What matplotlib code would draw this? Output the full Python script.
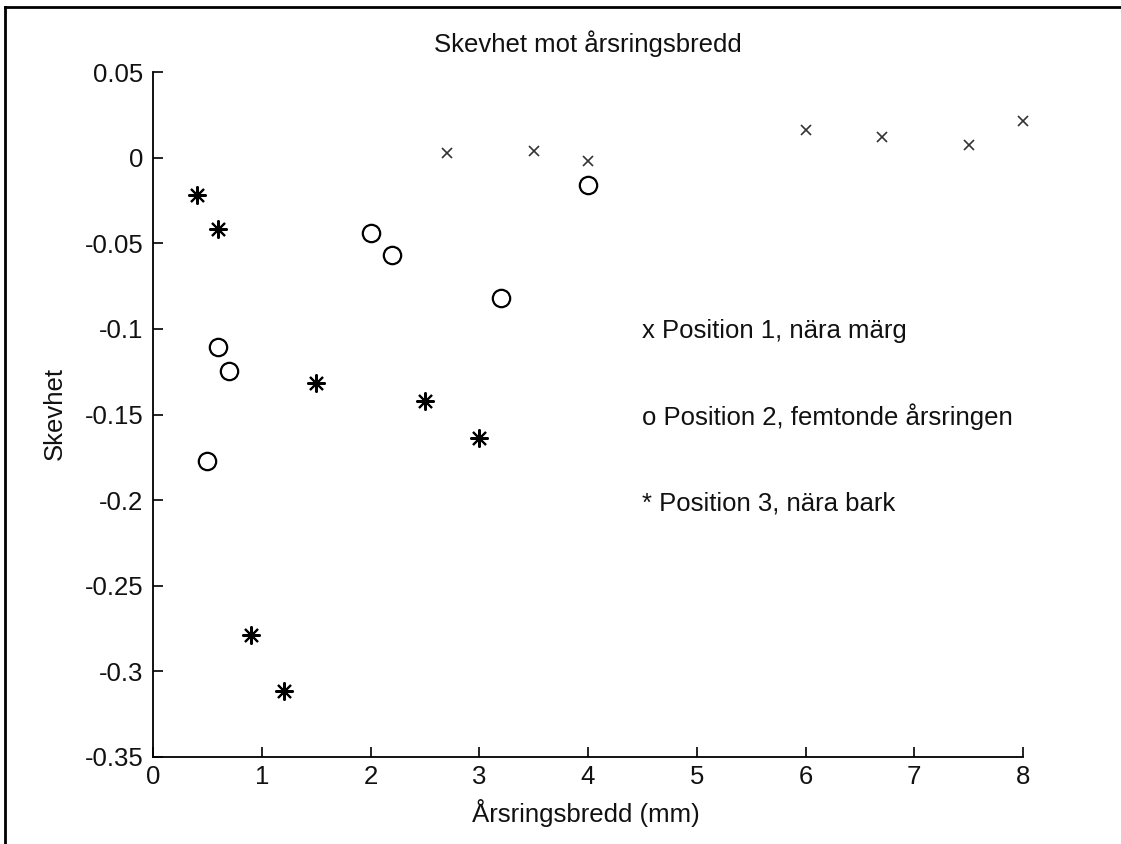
import matplotlib.pyplot as plt
from matplotlib.lines import Line2D

# Position 1, nära märg (x)
pos1_x = [2.7, 3.5, 4.0, 6.0, 6.7, 7.5, 8.0]
pos1_y = [0.0027, 0.0039, -0.002, 0.016, 0.012, 0.0074, 0.0214]

# Position 2, femtonde årsringen (o)
pos2_x = [0.5, 0.6, 0.7, 2.0, 2.2, 3.2, 4.0]
pos2_y = [-0.177, -0.1106, -0.1247, -0.044, -0.0569, -0.082, -0.016]

# Position 3, nära bark (*)
pos3_x = [0.4, 0.6, 1.5, 2.5, 3.0, 0.9, 1.2]
pos3_y = [-0.0218, -0.0417, -0.1317, -0.142, -0.1638, -0.279, -0.3116]

labels = ['x Position 1, nära märg',
          'o Position 2, femtonde årsringen',
          '* Position 3, nära bark']
label_x = 4.5
label_y = [-0.1053, -0.1561, -0.2058]

x_ticks = [0, 1, 2, 3, 4, 5, 6, 7, 8]
y_ticks = [-0.35, -0.3, -0.25, -0.2, -0.15, -0.1, -0.05, 0, 0.05]
y_tick_labels = ['-0.35', '-0.3', '-0.25', '-0.2', '-0.15', '-0.1', '-0.05', '0', '0.05']

plt.rcParams['font.family'] = ['Liberation Sans', 'DejaVu Sans']
FS = 18.5
TXT = '#111111'

fig = plt.figure(figsize=(11.21, 8.44), dpi=100)
W, H = 1121, 844
ax = fig.add_axes([153 / W, 1 - 757 / H, (1023 - 153) / W, (757 - 72) / H])

ax.plot(pos1_x, pos1_y, linestyle='none', marker='x', markersize=7,
        markeredgewidth=1.2, color='#333333', clip_on=False)
ax.plot(pos2_x, pos2_y, linestyle='none', marker='o', markersize=12.5,
        markerfacecolor='none', markeredgewidth=1.6, markeredgecolor='black',
        clip_on=False)
ax.plot(pos3_x, pos3_y, linestyle='none', marker=(8, 2, 0), markersize=13,
        markeredgewidth=1.5, color='black', clip_on=False)

for txt, yy in zip(labels, label_y):
    ax.text(label_x, yy, txt, fontsize=FS, ha='left', va='baseline', color=TXT)

ax.set_xlim(0, 8)
ax.set_ylim(-0.35, 0.05)
ax.set_xticks(x_ticks)
ax.set_xticklabels([str(t) for t in x_ticks])
ax.set_yticks(y_ticks)
ax.set_yticklabels(y_tick_labels)
ax.tick_params(direction='in', length=7, width=1.2, labelsize=FS,
               labelcolor=TXT)
ax.tick_params(axis='x', pad=5.5)
ax.tick_params(axis='y', pad=7)

ax.spines['top'].set_visible(False)
ax.spines['right'].set_visible(False)
ax.spines['left'].set_linewidth(1.3)
ax.spines['bottom'].set_linewidth(1.3)

fig.text(588 / W, 1 - 52 / H, 'Skevhet mot årsringsbredd', fontsize=FS,
         ha='center', va='baseline', color=TXT)
fig.text(586 / W, 1 - 822 / H, 'Årsringsbredd (mm)', fontsize=FS,
         ha='center', va='baseline', color=TXT)
fig.text(55 / W, 1 - 414 / H, 'Skevhet', fontsize=FS, rotation=90,
         ha='center', va='center', color=TXT)

# window frame lines (top and left)
fig.add_artist(Line2D([5 / W, 1], [1 - 7 / H, 1 - 7 / H], transform=fig.transFigure,
                      color='black', linewidth=2))
fig.add_artist(Line2D([5 / W, 5 / W], [0, 1 - 7 / H], transform=fig.transFigure,
                      color='black', linewidth=2))

fig.savefig('out.png', dpi=100, facecolor='white')
